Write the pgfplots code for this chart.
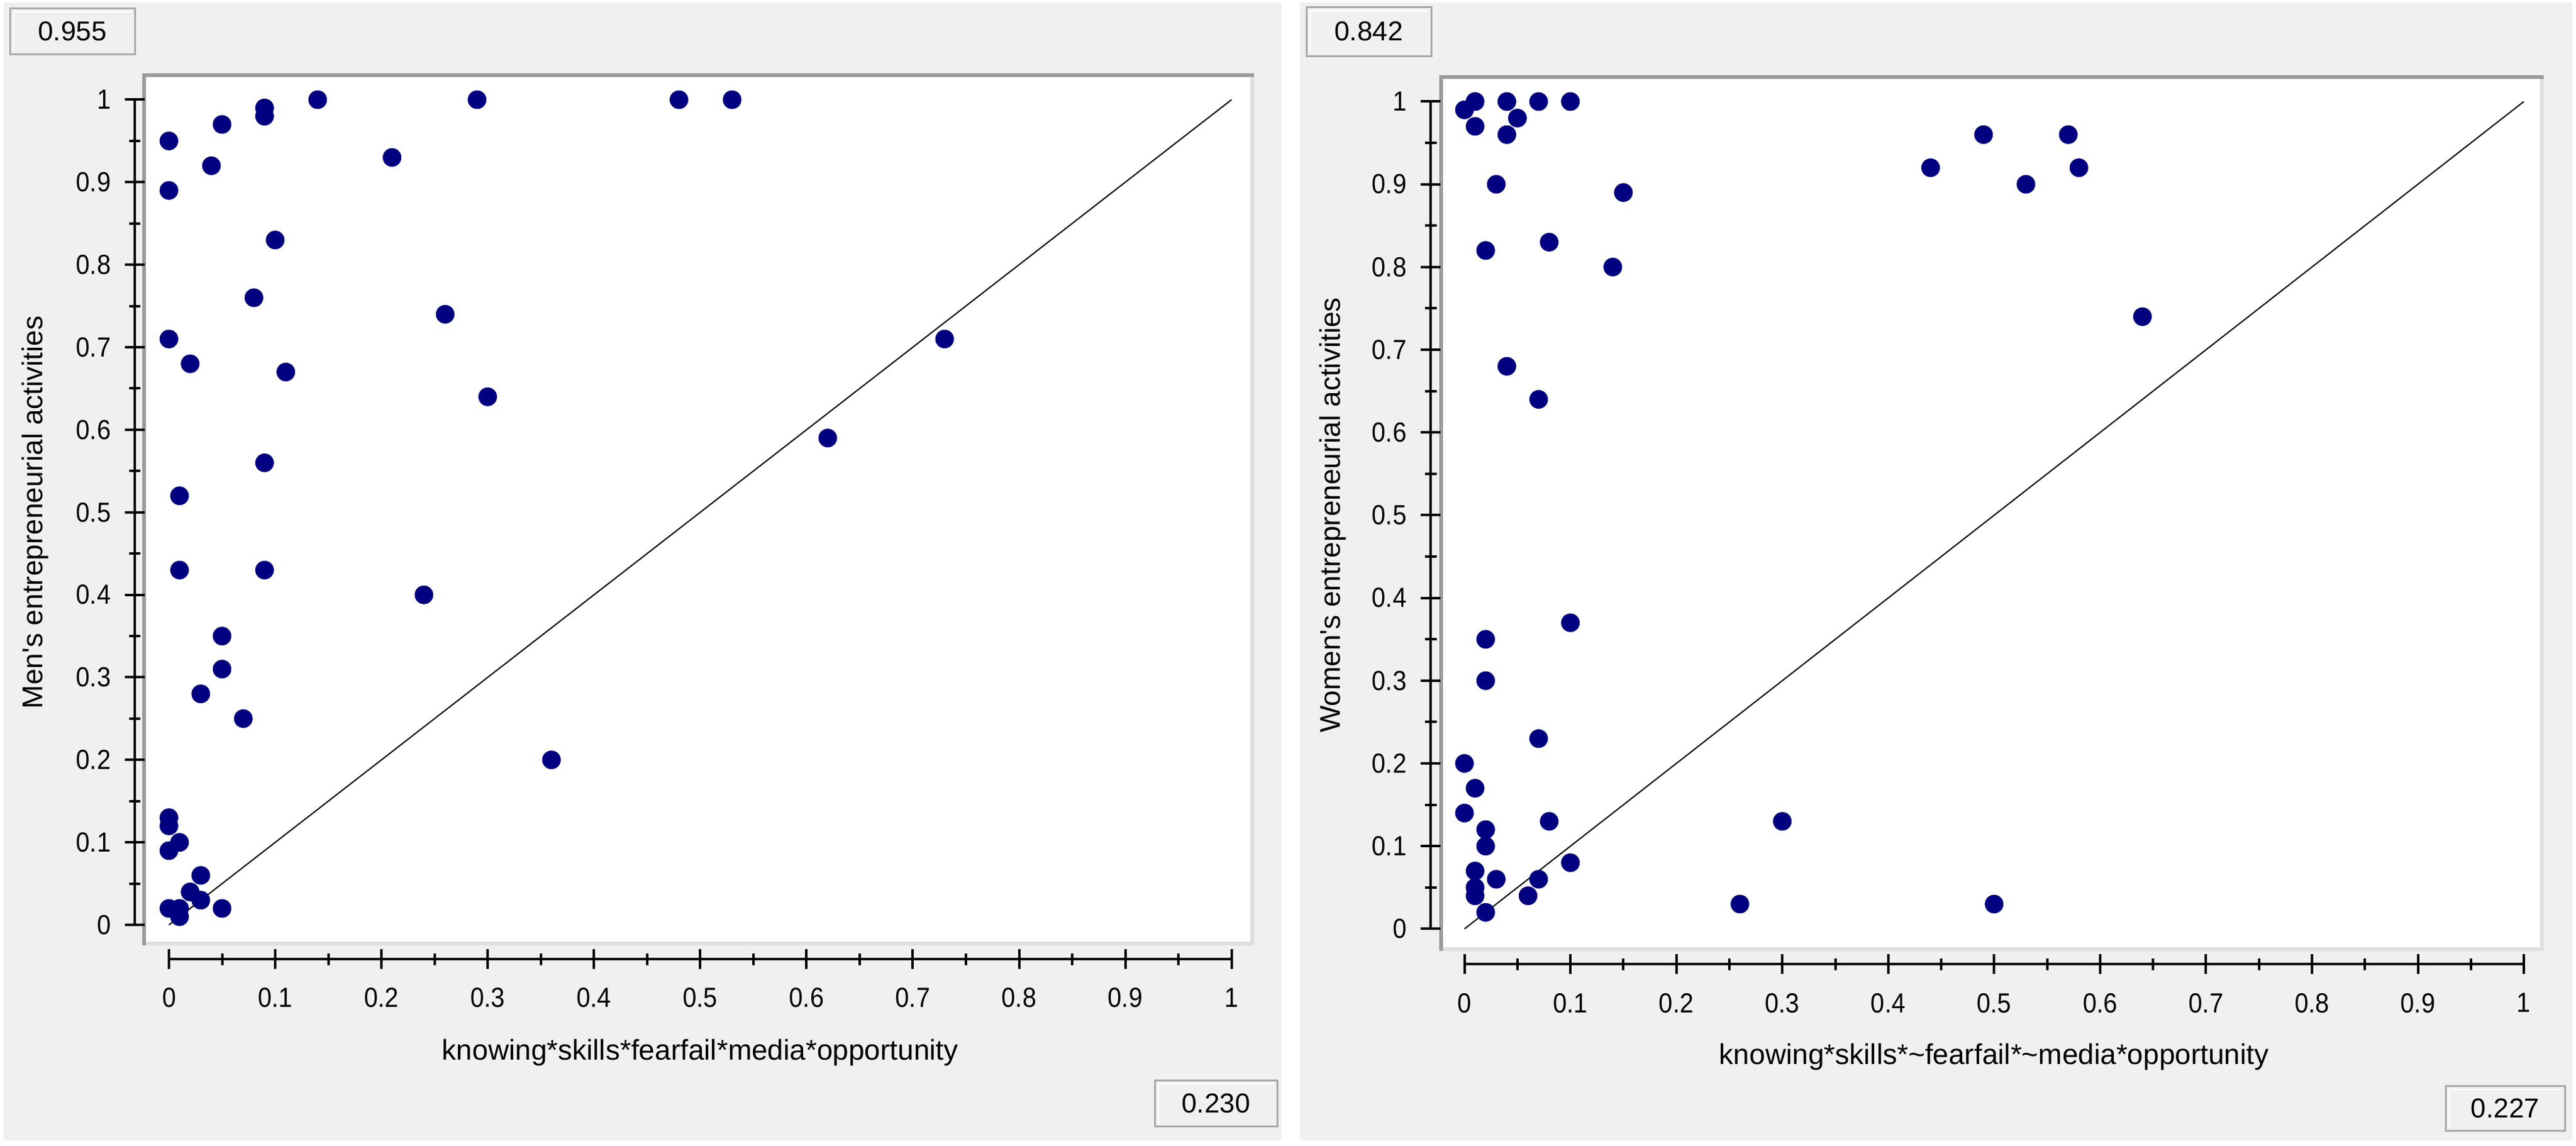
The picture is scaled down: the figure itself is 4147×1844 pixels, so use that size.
\documentclass[border=0pt]{standalone}
\usepackage{fontspec}
\setmainfont{Liberation Sans}[Ligatures=TeXOff]
\newfontfamily\tickfont{Liberation Sans}[FakeStretch=0.9]
\usepackage{pgfplots}
\pgfplotsset{compat=1.18}
\definecolor{panelbg}{HTML}{F0F0F0}
\definecolor{navydot}{HTML}{000080}
\definecolor{frameDark}{HTML}{9A9A9A}
\definecolor{frameLight}{HTML}{DEDEDE}
\definecolor{boxgray}{HTML}{A8A8A8}
\newcommand{\fs}{\fontsize{8.8pt}{10pt}\selectfont}
\newcommand{\fl}{\fontsize{9.2pt}{10pt}\selectfont}
\newcommand{\ft}{\tickfont\fontsize{8.9pt}{10pt}\selectfont}

\pgfplotstableread{
x y
0 0.95
0.05 0.97
0.09 0.99
0.09 0.98
0.14 1.00
0.29 1.00
0.48 1.00
0.53 1.00
0.04 0.92
0 0.89
0.21 0.93
0.10 0.83
0.08 0.76
0.26 0.74
0 0.71
0.73 0.71
0.02 0.68
0.11 0.67
0.30 0.64
0.62 0.59
0.09 0.56
0.01 0.52
0.01 0.43
0.09 0.43
0.24 0.40
0.05 0.35
0.05 0.31
0.03 0.28
0.07 0.25
0.36 0.20
0 0.13
0 0.12
0.01 0.10
0 0.09
0.03 0.06
0.02 0.04
0.03 0.03
0 0.02
0.01 0.02
0.01 0.01
0.05 0.02
}\men

\pgfplotstableread{
x y
0 0.99
0.01 1.00
0.01 0.97
0.04 1.00
0.05 0.98
0.04 0.96
0.07 1.00
0.10 1.00
0.03 0.90
0.15 0.89
0.02 0.82
0.08 0.83
0.14 0.80
0.04 0.68
0.07 0.64
0.44 0.92
0.49 0.96
0.53 0.90
0.57 0.96
0.58 0.92
0.64 0.74
0.10 0.37
0.02 0.35
0.02 0.30
0.07 0.23
0 0.20
0.01 0.17
0 0.14
0.08 0.13
0.30 0.13
0.02 0.12
0.02 0.10
0.10 0.08
0.01 0.07
0.03 0.06
0.07 0.06
0.01 0.05
0.01 0.04
0.06 0.04
0.02 0.02
0.26 0.03
0.50 0.03
}\women

\pgfplotsset{
  dataaxis/.style={scale only axis, hide axis, anchor=south west, clip=false},
  common/.style={
    scale only axis, anchor=south west,
    tick style={line width=0.8pt, black},
    tick align=outside,
    major tick length=6.4pt, minor tick length=3.8pt,
    tick label style={font=\ft, black},
    label style={font=\fl, black},
    /pgf/number format/assume math mode=true,
  },
  yonly/.style={common, width=1pt, xmin=0, xmax=1, ymin=0, ymax=1,
    axis y line=left, axis x line=none, xtick=\empty,
    axis line style={-, line width=0.8pt, black},
    y axis line style={-},
    every outer y axis line/.append style={-},
    ytick={0,0.1,0.2,0.3,0.4,0.5,0.6,0.7,0.8,0.9,1},
    minor ytick={0.05,0.15,0.25,0.35,0.45,0.55,0.65,0.75,0.85,0.95},
    yticklabel style={xshift=-1.0pt},
    ylabel style={at={(axis description cs:0,0.5)}, anchor=center}},
  xonly/.style={common, height=1pt, xmin=0, xmax=1, ymin=0, ymax=1,
    axis x line=bottom, axis y line=none, ytick=\empty,
    axis line style={-, line width=0.8pt, black},
    x axis line style={-},
    every outer x axis line/.append style={-},
    xtick={0,0.1,0.2,0.3,0.4,0.5,0.6,0.7,0.8,0.9,1},
    minor xtick={0.05,0.15,0.25,0.35,0.45,0.55,0.65,0.75,0.85,0.95},
    xticklabel style={yshift=-2.6pt},
    xlabel style={at={(axis description cs:0.5,0)}, anchor=center}},
}

\begin{document}
\begin{tikzpicture}[x=0.2pt, y=-0.2pt]
\useasboundingbox (0,0) rectangle (4147,1844);
% anchor points
\coordinate (LD) at (229,1522);
\coordinate (LY) at (217,1489);
\coordinate (LX) at (272.3,1544);
\coordinate (RD) at (2317,1530.6);
\coordinate (RY) at (2303,1495.4);
\coordinate (RX) at (2357.6,1552.3);
% panels
\fill[panelbg] (6,4) rectangle (2063,1836);
\fill[panelbg] (2093,4) rectangle (4141,1836);
% frames
\fill[white] (229,118) rectangle (2019,1522);
\draw[frameLight, line width=1.2pt] (2016,118) -- (2016,1519) -- (229,1519);
\draw[frameDark, line width=1.2pt] (232,1522) -- (232,121) -- (2019,121);
\fill[white] (2317,120.5) rectangle (4095,1530.6);
\draw[frameLight, line width=1.2pt] (4092,120.5) -- (4092,1527.6) -- (2317,1527.6);
\draw[frameDark, line width=1.2pt] (2320,1530.6) -- (2320,123.5) -- (4095,123.5);

% ---- left data
\begin{axis}[dataaxis, at={(LD)}, width=358pt, height=280.8pt,
  xmin=-0.0251, xmax=1.0213, ymin=-0.0248, ymax=1.032]
\addplot[black, line width=0.4pt] coordinates {(0,0) (1,1)};
\addplot[only marks, mark=*, mark size=2.9pt, mark options={draw=navydot, fill=navydot, line width=0.2pt}] table[x=x, y=y] {\men};
\end{axis}
\begin{axis}[yonly, at={(LY)}, height=265.7pt,
  ylabel={Men's entrepreneurial activities}, ylabel style={yshift=32pt}]
\end{axis}
\begin{axis}[xonly, at={(LX)}, width=342.04pt,
  xlabel={knowing*skills*fearfail*media*opportunity}, xlabel style={yshift=-30.2pt}]
\end{axis}

% ---- right data
\begin{axis}[dataaxis, at={(RD)}, width=355.6pt, height=282pt,
  xmin=-0.0238, xmax=1.0188, ymin=-0.0264, ymax=1.0322]
\addplot[black, line width=0.4pt] coordinates {(0,0) (1,1)};
\addplot[only marks, mark=*, mark size=2.9pt, mark options={draw=navydot, fill=navydot, line width=0.2pt}] table[x=x, y=y] {\women};
\end{axis}
\begin{axis}[yonly, at={(RY)}, height=266.4pt,
  ylabel={Women's entrepreneurial activities}, ylabel style={yshift=31.4pt}]
\end{axis}
\begin{axis}[xonly, at={(RX)}, width=341.08pt,
  xlabel={knowing*skills*\textasciitilde fearfail*\textasciitilde media*opportunity}, xlabel style={yshift=-29.8pt}]
\end{axis}

% ---- value boxes
\foreach \a/\b/\c/\d/\t in {16/13/217/87/0.955, 2103/11.5/2304/90/0.842, 1859/1739/2056/1813/0.230, 3937/1748/4129/1820/0.227}{
  \draw[boxgray, line width=0.6pt, fill=panelbg] (\a,\b) rectangle (\c,\d);
  \draw[white, line width=0.5pt] (\a+6,\d-5) -- (\a+6,\b+6) -- (\c-5,\b+6);
  \node[font=\fs, black, inner sep=0pt] at ({(\a+\c)/2},{(\b+\d)/2}) {\t};
}
\end{tikzpicture}
\end{document}
